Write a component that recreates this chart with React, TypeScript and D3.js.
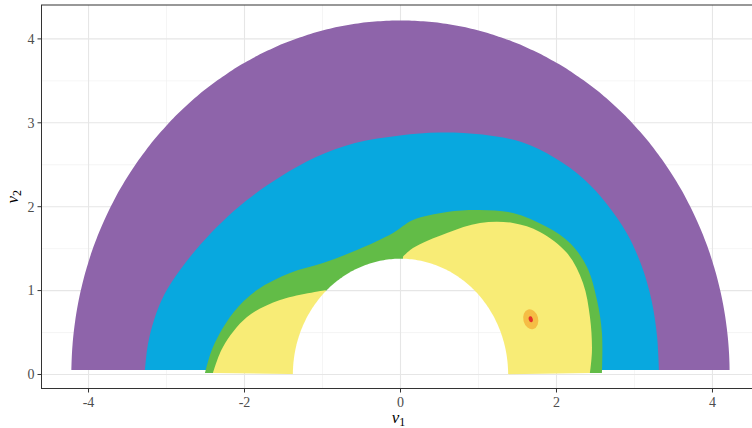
import React from "react";
import * as d3 from "d3";

// ---- data (in data units, v1 / v2) ----
const xTicks = [-4, -2, 0, 2, 4];
const xMinor = [-3, -1, 1, 3];
const yTicks = [0, 1, 2, 3, 4];
const yMinor = [0.5, 1.5, 2.5, 3.5];

const holeRadius = 1.38;
const outerRadius = 4.22;
const outerBottomY = 0.054;

// purple / blue boundary (left bottom -> right bottom)
const blueOuter: [number, number][] = [
  [-3.276, 0.054], [-3.24, 0.35], [-3.16, 0.65], [-3.03, 0.95], [-2.827, 1.245],
  [-2.571, 1.543], [-2.288, 1.818], [-1.968, 2.08], [-1.545, 2.354], [-1.083, 2.592],
  [-0.583, 2.759], [-0.006, 2.85], [0.5, 2.885], [1.05, 2.86], [1.55, 2.77],
  [1.98, 2.58], [2.35, 2.33], [2.647, 2.03], [2.9, 1.687], [3.09, 1.3],
  [3.22, 0.88], [3.29, 0.45], [3.314, 0.054],
];

// blue / green boundary
const greenOuter: [number, number][] = [
  [-2.506, 0.018], [-2.404, 0.328], [-2.147, 0.733], [-1.84, 1.007], [-1.417, 1.21],
  [-0.994, 1.329], [-0.558, 1.484], [-0.096, 1.687], [0.16, 1.841], [0.596, 1.937],
  [1.019, 1.961], [1.442, 1.925], [1.878, 1.758], [2.173, 1.567], [2.391, 1.281],
  [2.519, 0.888], [2.583, 0.495], [2.583, 0.018],
];

// left yellow lobe (green / yellow), corner on hole -> bottom
const yellowLeft: [number, number][] = [
  [-0.962, 1.005], [-1.545, 0.888], [-1.968, 0.685], [-2.276, 0.328], [-2.404, 0.018],
];

// right yellow region (green / yellow), notch on hole -> bottom
const yellowRight: [number, number][] = [
  [0.032, 1.405], [0.16, 1.508], [0.596, 1.687], [1.019, 1.806], [1.442, 1.806],
  [1.788, 1.699], [2.135, 1.448], [2.34, 1.091], [2.429, 0.685], [2.455, 0.292],
  [2.429, 0.018],
];

// small peak
const peakCenter: [number, number] = [1.67, 0.658];
const peakOrangeRadii: [number, number] = [0.095, 0.12];
const peakRedRadii: [number, number] = [0.026, 0.036];

const colors = {
  purple: "#8E64AA",
  blue: "#08A8DF",
  green: "#62BC47",
  yellow: "#F8EC76",
  orange: "#F5BD45",
  red: "#E5332A",
};

const W = 752;
const H = 428;
const panel = { left: 41.5, right: 759.5, top: 5, bottom: 388.5 };

export default function App() {
  const x = d3.scaleLinear().domain([-4.603, 4.603]).range([panel.left, panel.right]);
  const y = d3.scaleLinear().domain([-0.167, 4.404]).range([panel.bottom, panel.top]);

  const curve = d3
    .line<[number, number]>()
    .x((d) => x(d[0]))
    .y((d) => y(d[1]))
    .curve(d3.curveCatmullRom.alpha(0.5));

  const closedWith = (pts: [number, number][], extra: [number, number][]) =>
    curve(pts) + extra.map((p) => `L${x(p[0])},${y(p[1])}`).join("") + "Z";

  const a0 = Math.asin(outerBottomY / outerRadius);
  const outerPts: [number, number][] = d3
    .range(0, 181)
    .map((i) => {
      const a = Math.PI - a0 - ((Math.PI - 2 * a0) * i) / 180;
      return [outerRadius * Math.cos(a), outerRadius * Math.sin(a)];
    });
  const purplePath = curve(outerPts) + "Z";
  const bluePath = curve(blueOuter) + "Z";
  const greenPath = curve(greenOuter) + "Z";
  const yLeftPath = closedWith(yellowLeft, [[-0.3, -0.01], [0, 0]]);
  const yRightPath = closedWith(yellowRight, [[0.3, -0.01], [0, 0]]);

  const holePts: [number, number][] = d3.range(0, 361).map((i) => {
    const a = (i / 360) * 2 * Math.PI;
    return [holeRadius * Math.cos(a), holeRadius * Math.sin(a)];
  });
  const holePath =
    d3
      .line<[number, number]>()
      .x((d) => x(d[0]))
      .y((d) => y(d[1]))(holePts) + "Z";

  const font = "'Liberation Serif', 'DejaVu Serif', serif";
  const tickColor = "#333333";
  const labelColor = "#4D4D4D";

  return (
    <svg
      width={W}
      height={H}
      style={{ position: "absolute", left: 0, top: 0, background: "#fff" }}
    >
      <defs>
        <clipPath id="panelClip">
          <rect x={panel.left} y={panel.top} width={panel.right - panel.left} height={panel.bottom - panel.top} />
        </clipPath>
        <mask id="holeMask" maskUnits="userSpaceOnUse" x={0} y={0} width={W} height={H}>
          <rect x={0} y={0} width={W} height={H} fill="white" />
          <path d={holePath} fill="black" />
        </mask>
      </defs>
      <rect x={panel.left} y={panel.top} width={panel.right - panel.left} height={panel.bottom - panel.top} fill="#fff" />
      <g clipPath="url(#panelClip)">
        {xMinor.map((v) => (
          <line key={"xm" + v} x1={x(v)} x2={x(v)} y1={panel.top} y2={panel.bottom} stroke="#EEEEEE" strokeWidth={0.6} />
        ))}
        {yMinor.map((v) => (
          <line key={"ym" + v} y1={y(v)} y2={y(v)} x1={panel.left} x2={panel.right} stroke="#EEEEEE" strokeWidth={0.6} />
        ))}
        {xTicks.map((v) => (
          <line key={"xg" + v} x1={x(v)} x2={x(v)} y1={panel.top} y2={panel.bottom} stroke="#E6E6E6" strokeWidth={1.1} />
        ))}
        {yTicks.map((v) => (
          <line key={"yg" + v} y1={y(v)} y2={y(v)} x1={panel.left} x2={panel.right} stroke="#E6E6E6" strokeWidth={1.1} />
        ))}
        <g mask="url(#holeMask)">
          <path d={purplePath} fill={colors.purple} />
          <path d={bluePath} fill={colors.blue} />
          <path d={greenPath} fill={colors.green} />
          <path d={yLeftPath} fill={colors.yellow} />
          <path d={yRightPath} fill={colors.yellow} />
          <ellipse
            cx={x(peakCenter[0])}
            cy={y(peakCenter[1])}
            rx={x(peakOrangeRadii[0]) - x(0)}
            ry={y(0) - y(peakOrangeRadii[1])}
            fill={colors.orange}
            transform={`rotate(-15 ${x(peakCenter[0])} ${y(peakCenter[1])})`}
          />
          <ellipse
            cx={x(peakCenter[0])}
            cy={y(peakCenter[1])}
            rx={x(peakRedRadii[0]) - x(0)}
            ry={y(0) - y(peakRedRadii[1])}
            fill={colors.red}
            transform={`rotate(-15 ${x(peakCenter[0])} ${y(peakCenter[1])})`}
          />
        </g>
      </g>
      <rect
        x={panel.left}
        y={panel.top}
        width={panel.right - panel.left}
        height={panel.bottom - panel.top}
        fill="none"
        stroke="#333333"
        strokeWidth={1}
      />
      {xTicks.map((v) => (
        <g key={"xt" + v}>
          <line x1={x(v)} x2={x(v)} y1={panel.bottom} y2={panel.bottom + 4} stroke={tickColor} strokeWidth={1} />
          <text x={x(v)} y={panel.bottom + 18.5} textAnchor="middle" fontFamily={font} fontSize={14} fill={labelColor}>
            {String(v)}
          </text>
        </g>
      ))}
      {yTicks.map((v) => (
        <g key={"yt" + v}>
          <line x1={panel.left - 4} x2={panel.left} y1={y(v)} y2={y(v)} stroke={tickColor} strokeWidth={1} />
          <text x={panel.left - 7} y={y(v)} dy="0.35em" textAnchor="end" fontFamily={font} fontSize={14} fill={labelColor}>
            {String(v)}
          </text>
        </g>
      ))}
      <text x={(panel.left + panel.right) / 2 - 2} y={423} textAnchor="middle" fontFamily={font} fontSize={17} fill="#000">
        <tspan fontStyle="italic">v</tspan>
        <tspan fontSize={12} dy={3}>1</tspan>
      </text>
      <text
        transform={`translate(18, ${(panel.top + panel.bottom) / 2}) rotate(-90)`}
        textAnchor="middle"
        fontFamily={font}
        fontSize={17}
        fill="#000"
      >
        <tspan fontStyle="italic">v</tspan>
        <tspan fontSize={12} dy={3}>2</tspan>
      </text>
    </svg>
  );
}
